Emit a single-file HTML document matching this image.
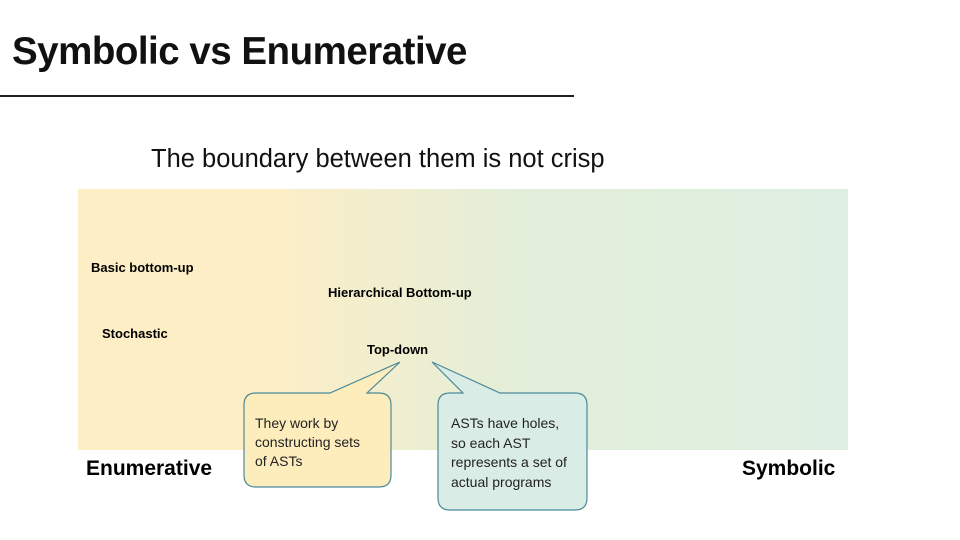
<!DOCTYPE html>
<html><head><style>
body{margin:0;width:960px;height:540px;background:#fff;overflow:hidden;position:relative;font-family:"Liberation Sans",sans-serif}
.t{position:absolute;white-space:nowrap}
</style></head><body>
<div class="t" style="left:12px;top:30px;font-size:38.5px;font-weight:bold;color:#111;letter-spacing:-0.5px">Symbolic vs Enumerative</div>
<div style="position:absolute;left:0;top:95px;width:574px;height:2px;background:#222"></div>
<div class="t" style="left:151px;top:145px;font-size:25.5px;color:#111">The boundary between them is not crisp</div>
<div style="position:absolute;left:78px;top:189px;width:770px;height:261px;background:linear-gradient(to right,#fdeec6 0%,#fdeec6 25%,#e2eed9 58%,#deeee2 100%)"></div>
<div class="t" style="left:91px;top:260px;font-size:13px;font-weight:bold">Basic bottom-up</div>
<div class="t" style="left:328px;top:285px;font-size:13px;font-weight:bold">Hierarchical Bottom-up</div>
<div class="t" style="left:102px;top:326px;font-size:13px;font-weight:bold">Stochastic</div>
<div class="t" style="left:367px;top:342px;font-size:13px;font-weight:bold">Top-down</div>
<div class="t" style="left:86px;top:457px;font-size:21px;font-weight:bold">Enumerative</div>
<div class="t" style="left:742px;top:457px;font-size:21px;font-weight:bold">Symbolic</div>
<svg style="position:absolute;left:0;top:0" width="960" height="540">
<path d="M256,393 L330,393 L400,362 L367,393 L379,393 Q391,393 391,405 L391,475 Q391,487 379,487 L256,487 Q244,487 244,475 L244,405 Q244,393 256,393 Z" fill="#fdedbd" stroke="#4b8a99" stroke-width="1.2"/>
<path d="M450,393 L463,393 L432,362 L500,393 L575,393 Q587,393 587,405 L587,498 Q587,510 575,510 L450,510 Q438,510 438,498 L438,405 Q438,393 450,393 Z" fill="#d9ede6" stroke="#4b8a99" stroke-width="1.2"/>
</svg>
<div class="t" style="left:255px;top:414px;font-size:14px;line-height:19px;color:#222">They work by<br>constructing sets<br>of ASTs</div>
<div class="t" style="left:451px;top:414px;font-size:14px;line-height:19.5px;color:#222">ASTs have holes,<br>so each AST<br>represents a set of<br>actual programs</div>
</body></html>
